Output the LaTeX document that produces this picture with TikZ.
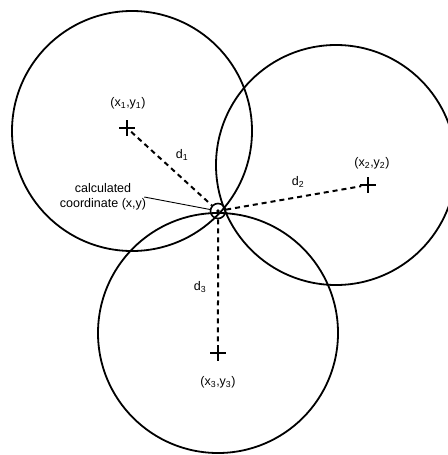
\documentclass[tikz,border=0pt]{standalone}
\usepackage{fontspec}
\setmainfont{Liberation Sans}
\usepackage{tikz}
\usetikzlibrary{positioning,shapes.misc}

\begin{document}
\begin{tikzpicture}[x=1pt,y=-1pt, every node/.style={font=\fontsize{12.5}{15}\selectfont},
    rangecircle/.style={line width=1.8pt},
    rangeline/.style={line width=2pt,dash pattern=on 5pt off 4pt},
    anchorpt/.style={cross out,draw,rotate=45,line width=1.3pt,minimum size=10pt,inner sep=0pt}]
        \useasboundingbox (0,0) rectangle (447,455);

        % three measurement circles
        \draw[rangecircle] (132,131) circle (120pt);
        \draw[rangecircle] (336,165) circle (120pt);
        \draw[rangecircle] (218,333) circle (120pt);

        % known points
        \node[anchorpt] (p1) at (127,128) {};
        \node[anchorpt] (p2) at (368,185) {};
        \node[anchorpt] (p3) at (218,353) {};
        \node (l1) at (128,103) {(x\textsubscript{1},y\textsubscript{1})};
        \node (l2) at (372,163) {(x\textsubscript{2},y\textsubscript{2})};
        \node (l3) at (218,382) {(x\textsubscript{3},y\textsubscript{3})};

        % calculated point
        \node[circle,draw,line width=1.6pt,minimum size=15pt,inner sep=0pt] (xy) at (218,211) {};
        \fill (xy) circle (1.8pt);

        % distances
        \draw[rangeline] (p1) -- (xy);
        \draw[rangeline] (xy) -- (p2);
        \draw[rangeline] (xy) -- (p3);
        \node (d1) at (182,155) {d\textsubscript{1}};
        \node (d2) at (298,182) {d\textsubscript{2}};
        \node (d3) at (200,287) {d\textsubscript{3}};

        % label with leader
        \node[align=center,inner sep=1pt] (lbl) at (103,197) {calculated\\coordinate (x,y)};
        \draw[line width=0.9pt] ([xshift=-3pt]lbl.east) -- (xy);
      \end{tikzpicture}
\end{document}
